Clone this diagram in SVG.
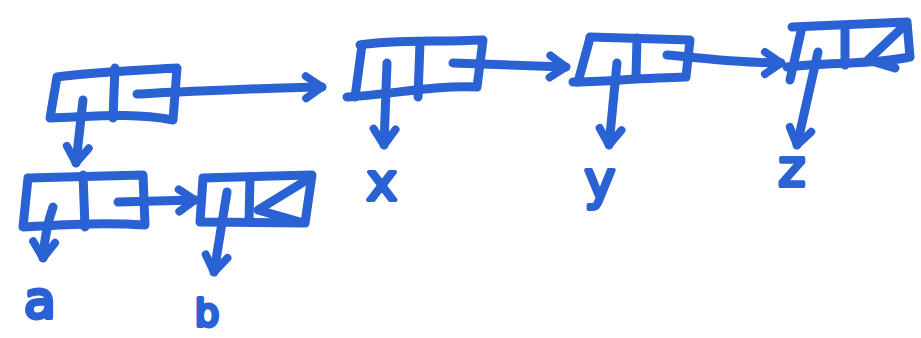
<svg xmlns="http://www.w3.org/2000/svg" width="921" height="338" viewBox="0 0 921 338">
<style>
.s{fill:none;stroke:#2a62d4;stroke-width:9;stroke-linecap:round;stroke-linejoin:round}
.t{font-family:"DejaVu Sans",sans-serif;font-size:52px;fill:#2a62d4;stroke:#2a62d4;stroke-width:4;stroke-linejoin:round;text-anchor:middle}
</style>
<defs>
<marker id="ah" markerUnits="userSpaceOnUse" viewBox="-22 -16 28 32" refX="0" refY="0" markerWidth="28" markerHeight="32" orient="auto">
<path d="M-16,-11 L0,0 L-16,11" fill="none" stroke="#2a62d4" stroke-width="8" stroke-linecap="round" stroke-linejoin="round"/>
</marker>
</defs>
<rect width="921" height="338" fill="#ffffff"/>
<g id="connectors">
<path class="s" d="M137,94 C200,91 260,88 322,87" marker-end="url(#ah)"/>
<path class="s" d="M83,100 L76,163" marker-end="url(#ah)"/>
<path class="s" d="M118,202 L195,200" marker-end="url(#ah)"/>
<path class="s" d="M53,207 Q45,230 43,258" marker-end="url(#ah)"/>
<path class="s" d="M227,192 L214,272" marker-end="url(#ah)"/>
<path class="s" d="M387,63 L384,145" marker-end="url(#ah)"/>
<path class="s" d="M453,63 L566,67" marker-end="url(#ah)"/>
<path class="s" d="M617,63 L609,145" marker-end="url(#ah)"/>
<path class="s" d="M667,55 C700,58 740,63 781,63" marker-end="url(#ah)"/>
<path class="s" d="M818,52 L797,145" marker-end="url(#ah)"/>
</g>
<g id="n1">
<path class="s" d="M57,77 C90,72 140,70 177,68 L173,120 C130,112 90,117 50,118 Z"/>
<path class="s" d="M115,68 L113,118"/>
</g>
<g id="n2">
<path class="s" d="M28,178 L143,175 L145,225 C100,222 60,225 23,227 Z"/>
<path class="s" d="M83,175 L85,227"/>
</g>
<g id="n3">
<path class="s" d="M203,178 L312,175 L305,223 L200,222 Z"/>
<path class="s" d="M250,177 L249,222"/>
<path class="s" d="M310,178 L258,210 L300,222"/>
</g>
<g id="n4">
<path class="s" d="M360,45 C390,40 430,42 483,40 L477,87 C430,85 390,95 347,97"/>
<path class="s" d="M362,45 L355,97"/>
<path class="s" d="M420,42 L418,97"/>
</g>
<g id="n5">
<path class="s" d="M590,37 L690,40 L686,77 C640,78 600,82 573,82"/>
<path class="s" d="M590,38 L578,82"/>
<path class="s" d="M637,38 L636,77"/>
</g>
<g id="n6">
<path class="s" d="M792,27 L907,22 L910,57 C870,65 830,62 787,67"/>
<path class="s" d="M802,27 L790,80"/>
<path class="s" d="M845,27 L845,65"/>
<path class="s" d="M905,25 L868,60 L895,68"/>
</g>
<g id="labels">
<text class="t" x="40" y="318">a</text>
<text class="t" x="207" y="326" style="font-size:38px">b</text>
<text class="t" x="382" y="200">x</text>
<text class="t" x="600" y="198">y</text>
<text class="t" x="792" y="186">z</text>
</g>
</svg>
